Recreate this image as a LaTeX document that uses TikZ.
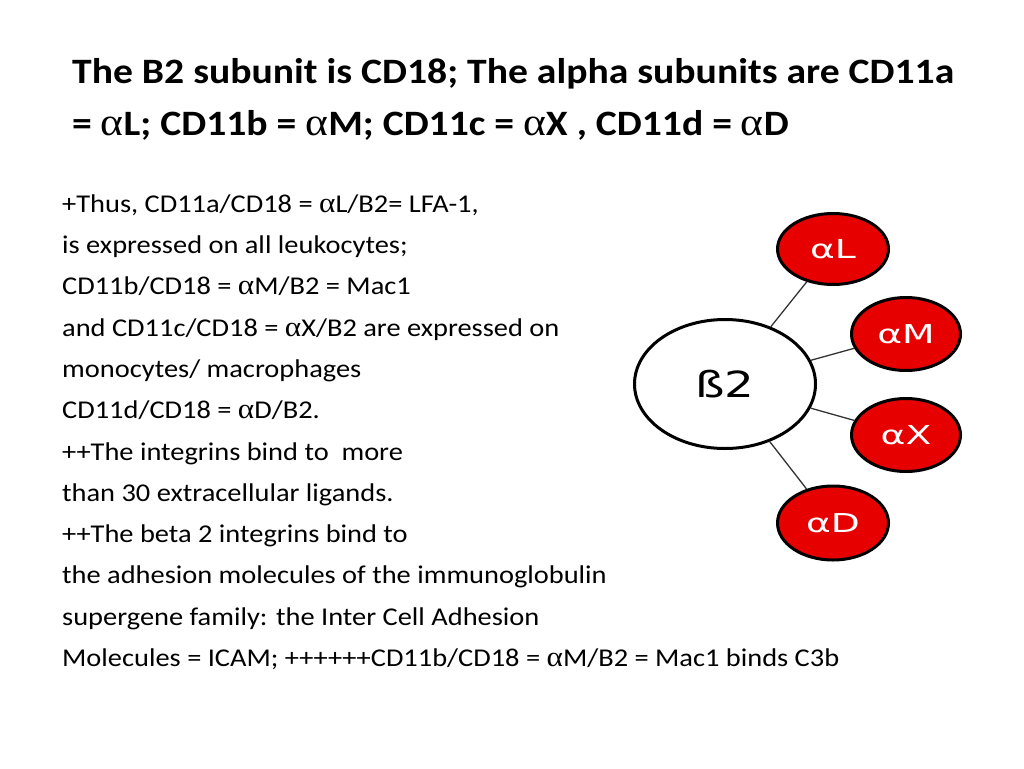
\documentclass[tikz,border=0pt]{standalone}
\usepackage{fontspec}
\setmainfont{Carlito}[FakeStretch=1.11]
\newfontfamily\symfont{Liberation Serif}[FakeStretch=1.11,Scale=1.1]
\newfontfamily\circlefont{DejaVu Sans}[FakeStretch=1.3]
\newfontfamily\subunitfont{DejaVu Sans}[FakeStretch=1.45]
\definecolor{integrinred}{RGB}{230,0,0}
\usetikzlibrary{
  positioning,
  shapes.geometric,
}
\newcommand{\al}{{\symfont\mdseries α}}
\tikzset{
  titleline/.style={anchor=base west,inner sep=0,font=\fontsize{35.7}{40}\selectfont\bfseries},
  bodyline/.style={anchor=north west,inner sep=0,text height=19pt,text depth=6.6pt,font=\fontsize{25.6}{30}\selectfont},
  subunit/.style={draw,ellipse,line width=3pt,fill=integrinred,text=white,font=\subunitfont\fontsize{26}{28}\selectfont,inner sep=0},
}

\begin{document}
\begin{tikzpicture}[x=1pt,y=-1pt,node distance=15.3pt]

        \fill[white] (0,0) rectangle (1024,768);
        \useasboundingbox (0,0) rectangle (1024,768);

        % title
        \node[titleline]    (t1)    at (72,83)    {The B2 subunit is CD18; The alpha subunits are CD11a};
        \node[titleline]    (t2)    at (72,135)   {= \al L; CD11b = \al M; CD11c = \al X , CD11d = \al D};

        % body text
        \node[bodyline]    (l1)    at (62,193)   {+Thus, CD11a/CD18 = \al L/B2= LFA-1,};
        \node[bodyline]    (l2)    [below=of l1.south west,anchor=north west]   {is expressed on all leukocytes;};
        \node[bodyline]    (l3)    [below=of l2.south west,anchor=north west]   {CD11b/CD18 = \al M/B2 = Mac1};
        \node[bodyline]    (l4)    [below=of l3.south west,anchor=north west]   {and CD11c/CD18 = \al X/B2 are expressed on};
        \node[bodyline]    (l5)    [below=of l4.south west,anchor=north west]   {monocytes/ macrophages};
        \node[bodyline]    (l6)    [below=of l5.south west,anchor=north west]   {CD11d/CD18 = \al D/B2.};
        \node[bodyline]    (l7)    [below=of l6.south west,anchor=north west]   {++The integrins bind to\ \ more};
        \node[bodyline]    (l8)    [below=of l7.south west,anchor=north west]   {than 30 extracellular ligands.};
        \node[bodyline]    (l9)    [below=of l8.south west,anchor=north west]   {++The beta 2 integrins bind to};
        \node[bodyline]    (l10)   [below=of l9.south west,anchor=north west]   {the adhesion molecules of the immunoglobulin};
        \node[bodyline]    (l11)   [below=of l10.south west,anchor=north west]  {supergene family: the Inter Cell Adhesion};
        \node[bodyline]    (l12)   [below=of l11.south west,anchor=north west]  {Molecules = ICAM; ++++++CD11b/CD18 = \al M/B2 = Mac1 binds C3b};

        % beta 2 and its alpha partners
        \node[draw,ellipse,line width=3pt,fill=white,minimum width=181,minimum height=129,font=\circlefont\fontsize{36}{40}\selectfont]    (b2)    at (725,384)   {ß2};
        \node[subunit,minimum width=111,minimum height=71]    (aL)    at (833,249)   {αL};
        \node[subunit,minimum width=109,minimum height=73]    (aM)    at (906,334)   {αM};
        \node[subunit,minimum width=109,minimum height=73]    (aX)    at (906,435)   {αX};
        \node[subunit,minimum width=111,minimum height=74]    (aD)    at (833,523)   {αD};

        \draw[line width=1.3pt,black!80] (b2) -- (aL);
        \draw[line width=1.3pt,black!80] (b2) -- (aM);
        \draw[line width=1.3pt,black!80] (b2) -- (aX);
        \draw[line width=1.3pt,black!80] (b2) -- (aD);

\end{tikzpicture}
\end{document}
